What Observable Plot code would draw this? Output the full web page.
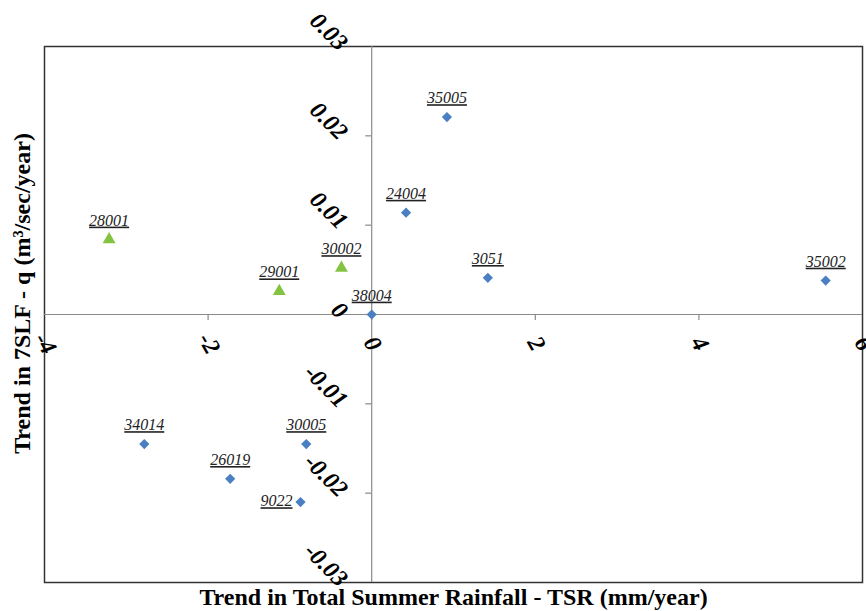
<!DOCTYPE html>
<html>
<head>
<meta charset="utf-8">
<script src="https://cdn.jsdelivr.net/npm/d3@7"></script>
<script src="https://cdn.jsdelivr.net/npm/@observablehq/plot@0.6"></script>
<style>
  html, body { margin: 0; padding: 0; background: #fff; }
  #chart { width: 866px; height: 611px; overflow: hidden; }
  #chart svg, #chart svg text { font-family: "Liberation Serif", "Times New Roman", serif; }
</style>
</head>
<body>
<div id="chart"></div>
<script>
// Data
const stations = ["28001", "29001", "30002", "38004", "24004", "35005", "3051", "35002", "34014", "26019", "30005", "9022"];
const tsrTrend = [-3.21, -1.13, -0.37, 0.0, 0.42, 0.92, 1.42, 5.55, -2.78, -1.73, -0.80, -0.87];
const qTrend = [0.0084, 0.0026, 0.0052, 0.0, 0.0114, 0.0221, 0.0041, 0.0038, -0.0145, -0.0184, -0.0145, -0.0210];
const groups = ["g", "g", "g", "b", "b", "b", "b", "b", "b", "b", "b", "b"];
const xTicks = [-4, -2, 0, 2, 4, 6];
const yTicks = [-0.03, -0.02, -0.01, 0, 0.01, 0.02, 0.03];
const xTickLabels = ["-4", "-2", "0", "2", "4", "6"];
const yTickLabels = ["-0.03", "-0.02", "-0.01", "0", "0.01", "0.02", "0.03"];
const xTitle = "Trend in Total Summer Rainfall - TSR (mm/year)";
const yTitle = "Trend in 7SLF - q (m³/sec/year)";

const data = stations.map((s, i) => ({station: s, x: tsrTrend[i], y: qTrend[i], g: groups[i]}));
const serif = "Liberation Serif";
const blue = "#4a7fc1";
const green = "#84c341";

const leftLabel = d => d.station === "9022";

const plot = Plot.plot({
  width: 866,
  height: 611,
  marginLeft: 44,
  marginRight: 4,
  marginTop: 46,
  marginBottom: 29,
  x: {domain: [-4, 6], axis: null},
  y: {domain: [-0.03, 0.03], axis: null},
  style: {fontFamily: serif, background: "#fff"},
  marks: [
    Plot.frame({stroke: "#333", strokeWidth: 1.5}),
    Plot.ruleY([0], {stroke: "#8a8a8a", strokeWidth: 1.2}),
    Plot.ruleX([0], {stroke: "#8a8a8a", strokeWidth: 1.2}),
    // tick marks
    Plot.ruleX(xTicks.slice(1, -1), {x: d => d, y1: 0, y2: 0, insetBottom: -6, stroke: "#8a8a8a", strokeWidth: 1.2}),
    Plot.ruleY(yTicks.slice(1, -1), {y: d => d, x1: 0, x2: 0, insetLeft: -6, stroke: "#8a8a8a", strokeWidth: 1.2}),
    // tick labels
    Plot.text(xTicks, {x: d => d, y: 0, text: (d, i) => xTickLabels[i], dy: 29, dx: 1, rotate: 60,
      fontFamily: serif, fontSize: 24, fontWeight: "bold", fontStyle: "italic", fill: "#000", textAnchor: "middle"}),
    Plot.text(yTicks, {x: 0, y: d => d, text: (d, i) => yTickLabels[i], dx: -28, rotate: 45,
      fontFamily: serif, fontSize: 24, fontWeight: "bold", fontStyle: "italic", fill: "#000", textAnchor: "end"}),
    // points
    Plot.dot(data.filter(d => d.g === "b"), {x: "x", y: "y", symbol: "diamond2", r: 4.6, fill: blue, stroke: null}),
    Plot.dot(data.filter(d => d.g === "g"), {x: "x", y: "y", symbol: "triangle", r: 4.8, fill: green, stroke: null}),
    // station labels
    Plot.text(data.filter(d => !leftLabel(d)), {x: "x", y: "y", text: "station", dy: -19,
      fontFamily: serif, fontSize: 16, fontStyle: "italic", fill: "#222"}),
    Plot.text(data.filter(leftLabel), {x: "x", y: "y", text: "station", dx: -8, dy: -1, textAnchor: "end",
      fontFamily: serif, fontSize: 16, fontStyle: "italic", fill: "#222"}),
    // axis titles
    Plot.text([xTitle], {frameAnchor: "bottom", textAnchor: "middle", lineAnchor: "middle", dy: 15,
      fontFamily: serif, fontSize: 24, fontWeight: "bold", fill: "#000"}),
    Plot.text([yTitle], {frameAnchor: "left", textAnchor: "middle", lineAnchor: "middle", dx: -22, dy: -21, rotate: -90,
      fontFamily: serif, fontSize: 24, fontWeight: "bold", fill: "#000"})
  ]
});

d3.select(plot).selectAll("text")
  .filter(function() { return stations.includes(this.textContent); })
  .style("text-decoration", "underline");
document.getElementById("chart").appendChild(plot);
</script>
</body>
</html>
